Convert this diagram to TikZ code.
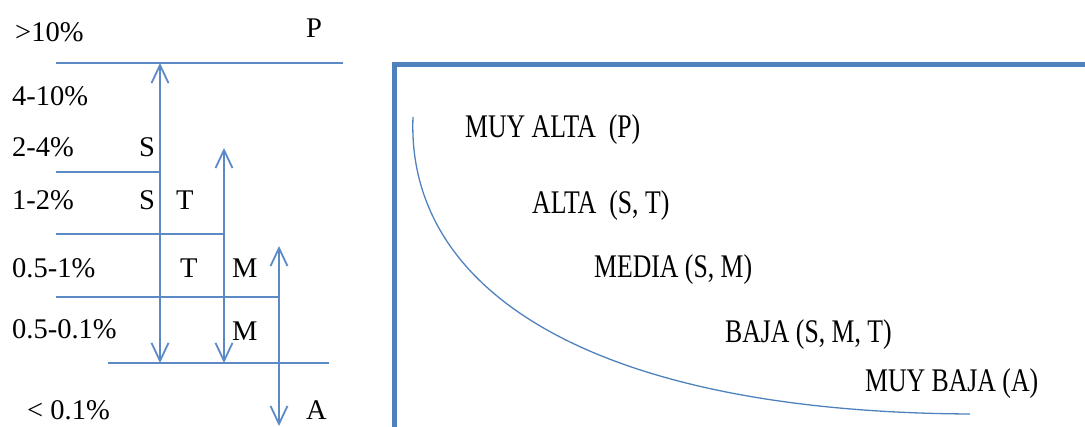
\documentclass[tikz,border=0pt]{standalone}
\usepackage{fontspec}
\setmainfont{Liberation Serif}
\newfontfamily\rfont[FakeStretch=0.78]{Liberation Serif}
\usetikzlibrary{arrows.meta}
\definecolor{ln}{HTML}{5B8AC6}
\definecolor{bx}{HTML}{4F81BD}
\tikzset{
  lbl/.style={anchor=base west,inner sep=0pt,font=\fontsize{28.5}{34}\selectfont},
  rlbl/.style={anchor=base west,inner sep=0pt,font=\rfont\fontsize{33}{38}\selectfont},
  rule/.style={draw=ln,line width=1.8pt},
  arr/.style={rule,{Straight Barb[length=18pt,width=17pt,line width=1.8pt]}-{Straight Barb[length=18pt,width=17pt,line width=1.8pt]}},
}
\begin{document}
\begin{tikzpicture}[x=1pt,y=-1pt]
\useasboundingbox (0,0) rectangle (1085,427);
% left texts
\node[lbl] (p10) at (15,42) {>10\%};
\node[lbl] (P) at (306,38) {P};
\node[lbl] (p4) at (12,106) {4-10\%};
\node[lbl] (p2) at (12,157) {2-4\%};
\node[lbl] (S1) at (139,157) {S};
\node[lbl] (p1) at (12,210) {1-2\%};
\node[lbl] (S2) at (139,210) {S};
\node[lbl] (T1) at (176,210) {T};
\node[lbl] (p05) at (12,278) {0.5-1\%};
\node[lbl] (T2) at (180,278) {T};
\node[lbl] (M1) at (232,278) {M};
\node[lbl] (p01) at (12,339) {0.5-0.1\%};
\node[lbl] (M2) at (232,341) {M};
\node[lbl] (plt) at (27,420) {< 0.1\%};
\node[lbl] (A) at (306,420) {A};
% horizontal rules
\coordinate (h1a) at (56,63);  \coordinate (h1b) at (343,63);
\coordinate (h2a) at (56,172); \coordinate (h2b) at (160,172);
\coordinate (h3a) at (56,234); \coordinate (h3b) at (224,234);
\coordinate (h4a) at (56,297); \coordinate (h4b) at (279,297);
\coordinate (h5a) at (108,363); \coordinate (h5b) at (329,363);
\draw[rule] (h1a) -- (h1b);
\draw[rule] (h2a) -- (h2b);
\draw[rule] (h3a) -- (h3b);
\draw[rule] (h4a) -- (h4b);
\draw[rule] (h5a) -- (h5b);
% arrows
\coordinate (sa) at (160,63);  \coordinate (sb) at (160,363);
\coordinate (ta) at (224,148); \coordinate (tb) at (224,363);
\coordinate (ma) at (279,246); \coordinate (mb) at (279,426);
\draw[arr] (sb) -- (sa);
\draw[arr] (tb) -- (ta);
\draw[arr] (mb) -- (ma);
% right box
\draw[draw=bx,line width=4.5pt] (394.5,430) -- (394.5,64.5) -- (1090,64.5);
% curve
\coordinate (c0) at (413,117);
\coordinate (c1) at (970,414);
\draw[draw=bx,line width=1.3pt] (c0) .. controls (406,290) and (590,412) .. (c1);
% right texts
\node[rlbl] (ma1) at (465,138) {MUY ALTA \ (P)};
\node[rlbl] (al) at (532,214) {ALTA \ (S, T)};
\node[rlbl] (me) at (594,278) {MEDIA (S, M)};
\node[rlbl] (ba) at (725,343) {BAJA (S, M, T)};
\node[rlbl] (mb1) at (865,392) {MUY BAJA (A)};
\end{tikzpicture}
\end{document}
